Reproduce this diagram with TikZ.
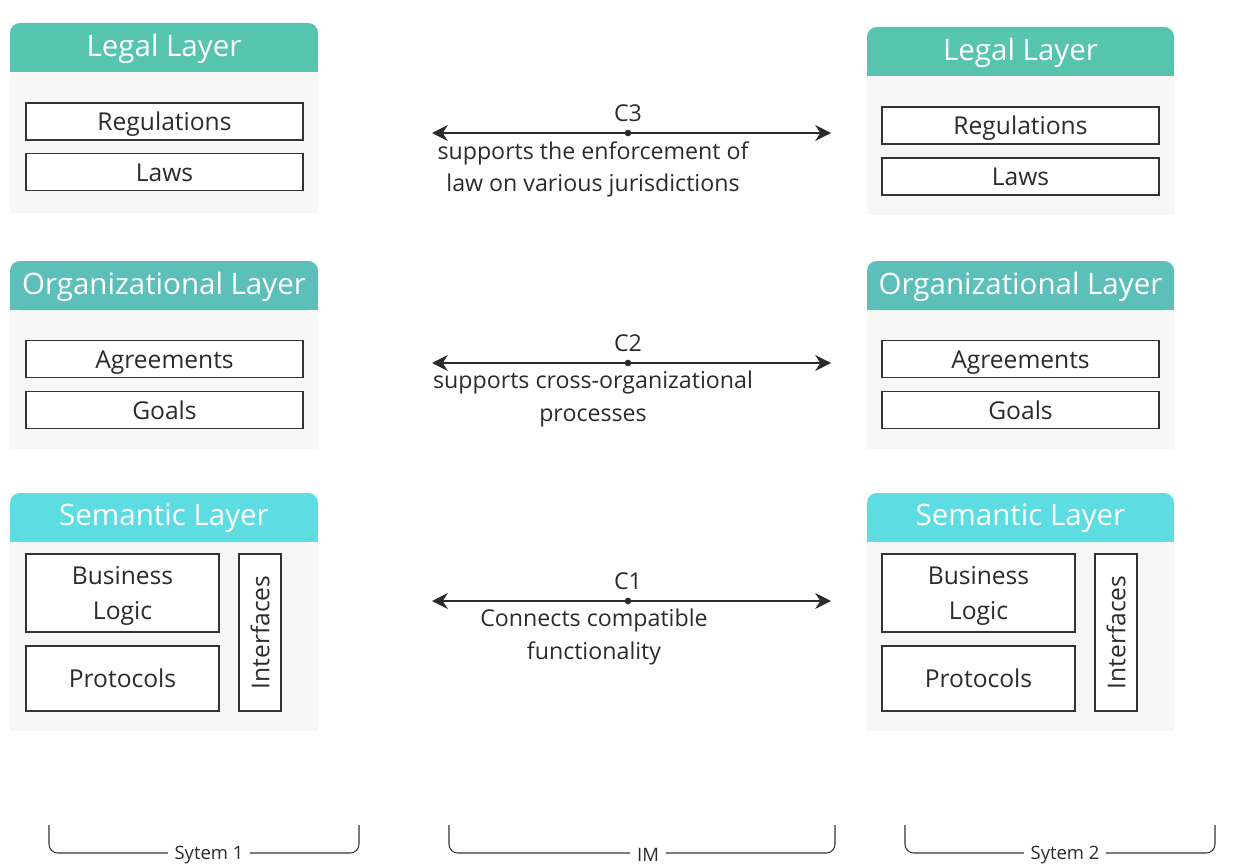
\documentclass[tikz,border=0pt]{standalone}
\usepackage{fontspec}
\setmainfont{Open Sans}
\usepackage{tikz}
\usetikzlibrary{arrows.meta}
\usetikzlibrary{positioning}
\definecolor{legal}{HTML}{56C4AE}
\definecolor{orga}{HTML}{5CBFBA}
\definecolor{sema}{HTML}{5DDCE1}
\definecolor{panelgray}{HTML}{F7F7F7}
\definecolor{txt}{HTML}{2B2B2B}
\definecolor{boxline}{HTML}{333333}
\tikzset{>=Stealth}
\tikzstyle{panel} = [fill=panelgray]
\tikzstyle{title} = [text=white, font=\fontsize{16.8}{19}\selectfont]
\tikzstyle{item} = [rectangle, draw=boxline, fill=white, line width=0.8pt, text=txt, align=center, inner sep=0, font=\fontsize{14}{19.5}\selectfont]
\tikzstyle{wide} = [item, minimum width=5.54cm, minimum height=0.74cm, text height=10.6pt, text depth=0pt]
\tikzstyle{biz} = [item, minimum width=3.86cm, minimum height=1.56cm, text depth=0pt]
\tikzstyle{proto} = [item, minimum width=3.86cm, minimum height=1.3cm, text height=10.6pt, text depth=0pt]
\tikzstyle{iface} = [item, minimum width=3.14cm, minimum height=0.84cm, rotate=90, text height=10.6pt, text depth=0pt]
\tikzstyle{link} = [{Stealth[length=9pt,width=9pt]}-{Stealth[length=9pt,width=9pt]}, line width=0.9pt, draw=txt]
\tikzstyle{dot} = [circle, fill=txt, inner sep=0, minimum size=3.8pt]
\tikzstyle{note} = [text=txt, align=center, font=\fontsize{13.2}{18.5}\selectfont]
\tikzstyle{brace} = [draw=boxline, line width=0.6pt, rounded corners=5pt]
\tikzstyle{tag} = [fill=white, text=txt, inner xsep=4pt, inner ysep=1pt, font=\fontsize{10.5}{12}\selectfont]

\begin{document}
\begin{tikzpicture}[x=0.02cm, y=-0.02cm]
\useasboundingbox (0,0) rectangle (1240,868);
% legal layer
\fill[panel] (10,23) rectangle (318,213);
\fill[legal, rounded corners=0.2cm] (10,23) rectangle (318,72);
\fill[legal] (10,50) rectangle (318,72);
\node[title] (LT1) at (164,48.5) {Legal Layer};
\node[wide] (Reg1) at (164.5,121.5) {Regulations};
\node[wide] (Law1) at (164.5,172) {Laws};
\fill[panel] (867,27) rectangle (1174,215);
\fill[legal, rounded corners=0.2cm] (867,27) rectangle (1174,76);
\fill[legal] (867,54) rectangle (1174,76);
\node[title] (LT2) at (1020.5,52.5) {Legal Layer};
\node[wide] (Reg2) at (1020.5,125.5) {Regulations};
\node[wide] (Law2) at (1020.5,176.5) {Laws};
% organizational layer
\fill[panel] (10,261) rectangle (318,449);
\fill[orga, rounded corners=0.2cm] (10,261) rectangle (318,310);
\fill[orga] (10,288) rectangle (318,310);
\node[title] (OT1) at (164,286.5) {Organizational Layer};
\node[wide] (Agr1) at (164.5,359) {Agreements};
\node[wide] (Goal1) at (164.5,410) {Goals};
\fill[panel] (867,261) rectangle (1174,449);
\fill[orga, rounded corners=0.2cm] (867,261) rectangle (1174,310);
\fill[orga] (867,288) rectangle (1174,310);
\node[title] (OT2) at (1020.5,286.5) {Organizational Layer};
\node[wide] (Agr2) at (1020.5,359) {Agreements};
\node[wide] (Goal2) at (1020.5,410) {Goals};
% semantic layer
\fill[panel] (10,493) rectangle (318,731);
\fill[sema, rounded corners=0.2cm] (10,493) rectangle (318,542);
\fill[sema] (10,520) rectangle (318,542);
\node[title] (ST1) at (164,518.5) {Semantic Layer};
\node[biz] (Biz1) at (122.5,593) {Business\\Logic};
\node[proto] (Pro1) at (122.5,678.5) {Protocols};
\node[iface] (Int1) at (260,632.5) {Interfaces};
\fill[panel] (867,493) rectangle (1174,731);
\fill[sema, rounded corners=0.2cm] (867,493) rectangle (1174,542);
\fill[sema] (867,520) rectangle (1174,542);
\node[title] (ST2) at (1020.5,518.5) {Semantic Layer};
\node[biz] (Biz2) at (978.5,593) {Business\\Logic};
\node[proto] (Pro2) at (978.5,678.5) {Protocols};
\node[iface] (Int2) at (1116,632.5) {Interfaces};
% connections
\coordinate (a3) at (432,133);
\coordinate (b3) at (831,133);
\draw[link] (a3) -- (b3);
\node[dot] (m3) at (628,133) {};
\node[note] (C3) at (628,113) {C3};
\node[note] (t3) at (593,169.5) {supports the enforcement of\\law on various jurisdictions};
\coordinate (a2) at (432,363);
\coordinate (b2) at (831,363);
\draw[link] (a2) -- (b2);
\node[dot] (m2) at (628,363) {};
\node[note] (C2) at (628,343) {C2};
\node[note] (t2) at (593,399) {supports cross-organizational\\processes};
\coordinate (a1) at (432,601);
\coordinate (b1) at (831,601);
\draw[link] (a1) -- (b1);
\node[dot] (m1) at (628,601) {};
\node[note] (C1) at (628,581) {C1};
\node[note] (t1) at (594,637) {Connects compatible\\functionality};
% brackets
\draw[brace] (49,825) -- (49,853) -- (359,853) -- (359,825);
\node[tag] (S1) at (209,855) {Sytem 1};
\draw[brace] (449,825) -- (449,853) -- (835,853) -- (835,825);
\node[tag] (IM) at (648,855) {IM};
\draw[brace] (905,825) -- (905,853) -- (1215,853) -- (1215,825);
\node[tag] (S2) at (1065,855) {Sytem 2};
\end{tikzpicture}
\end{document}
